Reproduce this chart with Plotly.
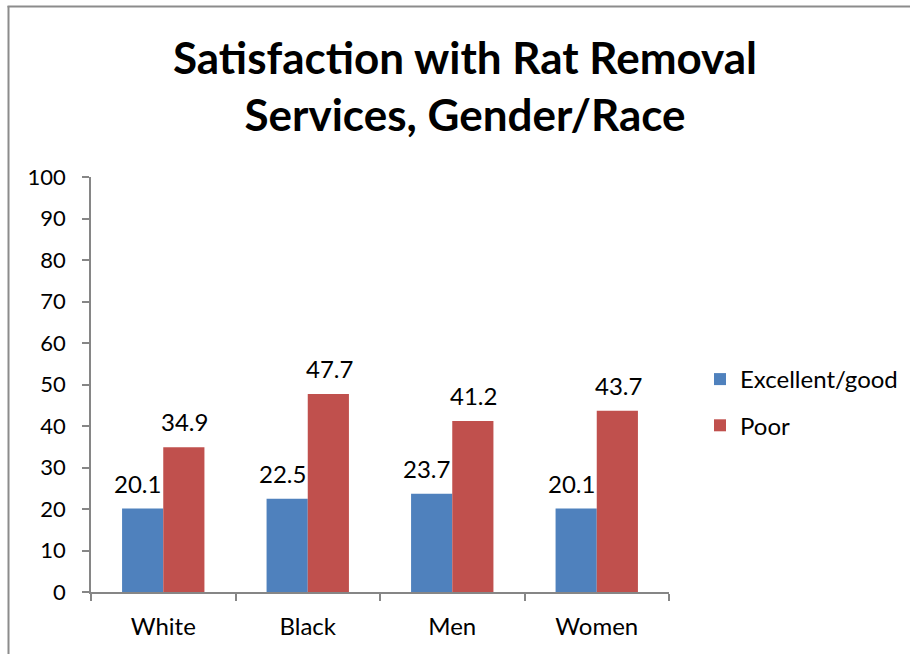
import plotly.graph_objects as go

categories = ["White", "Black", "Men", "Women"]
excellent_good = [20.1, 22.5, 23.7, 20.1]
poor = [34.9, 47.7, 41.2, 43.7]
y_ticks = list(range(0, 101, 10))

W, H = 910, 654
L, R, T, B = 91, 669, 177, 592  # plot area in pixels
FONT = "Lato"
BAR_PX = 41.2  # width of one bar in pixels, used to offset value labels

fig = go.Figure()
fig.add_trace(go.Bar(
    x=categories, y=excellent_good, name="Excellent/good",
    marker=dict(color="#4F81BD", line=dict(width=0)),
    legendgroup="a",
))
fig.add_trace(go.Bar(
    x=categories, y=poor, name="Poor",
    marker=dict(color="#C0504D", line=dict(width=0)),
    legendgroup="b",
))

px_x = lambda p: (p - L) / (R - L)
px_y = lambda p: (B - p) / (B - T)

# value labels above each bar
annotations = []
for values, shift in ((excellent_good, -BAR_PX / 2 - 5), (poor, BAR_PX / 2 + 1)):
    for cat, v in zip(categories, values):
        annotations.append(dict(
            x=cat, y=v, xref="x", yref="y", text=f"{v:.1f}",
            showarrow=False, xanchor="center", yanchor="bottom",
            xshift=shift, yshift=9,
            font=dict(size=24, family=FONT, color="black"),
        ))

annotations.append(dict(
    text="<b>Satisfaction with Rat Removal<br>Services, Gender/Race</b>",
    xref="paper", yref="paper", x=px_x(465), y=px_y(86),
    xanchor="center", yanchor="middle", showarrow=False,
    font=dict(size=44, family=FONT, color="black"),
))

fig.update_layout(
    width=W, height=H, autosize=False,
    margin=dict(l=L, r=W - R, t=T, b=H - B, pad=0, autoexpand=False),
    paper_bgcolor="white", plot_bgcolor="white",
    font=dict(family=FONT, color="black", size=20),
    barmode="group", bargap=0.43, bargroupgap=0,
    showlegend=True,
    legend=dict(
        x=px_x(700), y=px_y(357), xanchor="left", yanchor="top",
        font=dict(size=24, family=FONT, color="black"),
        traceorder="grouped", tracegroupgap=12,
        itemwidth=30, bgcolor="rgba(0,0,0,0)",
    ),
    xaxis=dict(
        type="category", showline=True, linecolor="#868686", linewidth=1.5,
        ticks="outside", tickson="boundaries", ticklen=7, tickcolor="#868686",
        tickwidth=1.5, showgrid=False, tickfont=dict(size=24, family=FONT),
        ticklabelstandoff=12, automargin=False,
    ),
    yaxis=dict(
        range=[0, 100], tickvals=y_ticks, showline=True, linecolor="#868686",
        linewidth=1.5, ticks="outside", ticklen=7, tickcolor="#868686",
        tickwidth=1.5, showgrid=False, zeroline=False,
        tickfont=dict(size=22, family=FONT), ticklabelstandoff=12,
        automargin=False,
    ),
    annotations=annotations,
    shapes=[
        dict(type="line", xref="paper", yref="paper",
             x0=px_x(7.5), x1=px_x(W + 5), y0=px_y(6.5), y1=px_y(6.5),
             line=dict(color="#8C8C8C", width=2)),
        dict(type="line", xref="paper", yref="paper",
             x0=px_x(8.5), x1=px_x(8.5), y0=px_y(6), y1=px_y(H + 5),
             line=dict(color="#8C8C8C", width=2)),
    ],
)

fig.write_html("out.html")
